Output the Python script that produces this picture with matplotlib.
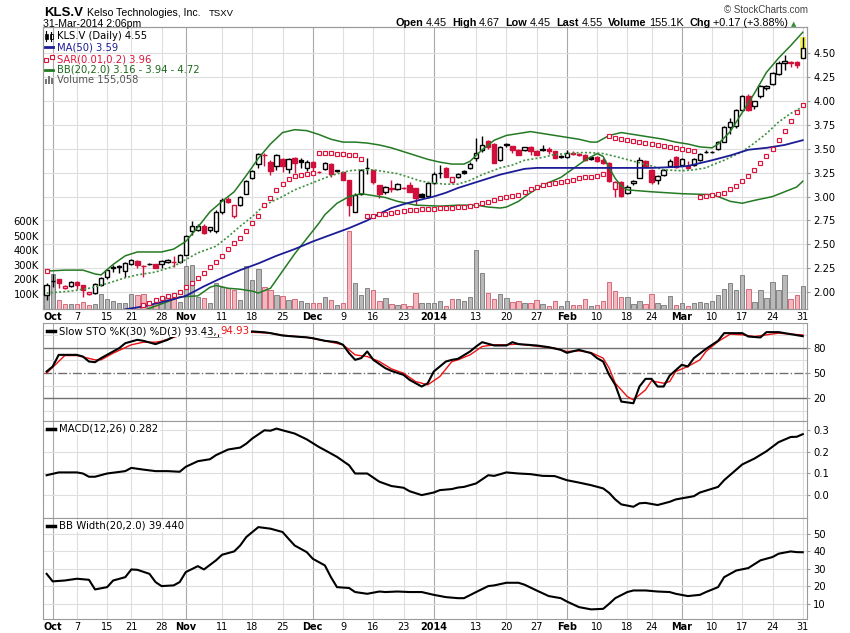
import numpy as np
import matplotlib
matplotlib.use("Agg")
import matplotlib.pyplot as plt
from matplotlib.lines import Line2D
from matplotlib.patches import Rectangle

# daily candles, 30-Sep-2013 .. 31-Mar-2014 (126 sessions)
opens = [1.97, 2.12, 2.14, 2.04, 2.06, 2.11, 2.07, 1.98, 1.99, 2.07,
         2.16, 2.25, 2.26, 2.22, 2.29, 2.33, 2.27, 2.29, 2.29, 2.29,
         2.31, 2.32, 2.32, 2.39, 2.64, 2.65, 2.69, 2.65, 2.64, 2.84,
         2.97, 2.80, 2.91, 3.03, 3.19, 3.34, 3.44, 3.36, 3.32, 3.39,
         3.29, 3.40, 3.38, 3.30, 3.36, 3.26, 3.29, 3.34, 3.28, 3.26,
         3.17, 2.84, 3.03, 3.30, 3.28, 3.12, 3.05, 3.09, 3.08, 3.09,
         3.12, 3.09, 3.03, 3.01, 3.14, 3.25, 3.30, 3.15, 3.20, 3.27,
         3.30, 3.40, 3.49, 3.58, 3.55, 3.38, 3.54, 3.53, 3.49, 3.49,
         3.52, 3.48, 3.49, 3.50, 3.48, 3.42, 3.41, 3.46, 3.45, 3.44,
         3.41, 3.41, 3.38, 3.35, 3.08, 3.15, 3.04, 3.14, 3.19, 3.37,
         3.28, 3.17, 3.23, 3.32, 3.41, 3.33, 3.32, 3.33, 3.38, 3.47,
         3.47, 3.50, 3.57, 3.73, 3.74, 3.91, 4.05, 3.95, 4.05, 4.14,
         4.18, 4.28, 4.40, 4.41, 4.41, 4.45]
highs = [2.10, 2.19, 2.14, 2.07, 2.12, 2.12, 2.07, 2.00, 2.09, 2.16,
         2.24, 2.28, 2.28, 2.31, 2.35, 2.34, 2.28, 2.30, 2.29, 2.34,
         2.35, 2.38, 2.40, 2.60, 2.74, 2.71, 2.71, 2.68, 2.86, 2.98,
         3.00, 2.91, 3.01, 3.17, 3.28, 3.46, 3.46, 3.38, 3.45, 3.40,
         3.40, 3.41, 3.40, 3.38, 3.37, 3.27, 3.36, 3.35, 3.28, 3.26,
         3.17, 3.04, 3.29, 3.40, 3.28, 3.12, 3.11, 3.17, 3.14, 3.10,
         3.15, 3.09, 3.04, 3.14, 3.26, 3.33, 3.31, 3.20, 3.25, 3.28,
         3.36, 3.61, 3.63, 3.59, 3.56, 3.53, 3.56, 3.53, 3.50, 3.52,
         3.53, 3.49, 3.54, 3.52, 3.48, 3.43, 3.49, 3.48, 3.46, 3.45,
         3.42, 3.42, 3.40, 3.36, 3.16, 3.16, 3.12, 3.17, 3.41, 3.38,
         3.29, 3.23, 3.29, 3.39, 3.42, 3.40, 3.37, 3.40, 3.46, 3.49,
         3.48, 3.58, 3.74, 3.82, 3.92, 4.06, 4.07, 4.00, 4.17, 4.17,
         4.30, 4.42, 4.48, 4.42, 4.42, 4.67]
lows = [1.92, 2.05, 2.04, 2.03, 2.05, 2.03, 1.95, 1.97, 1.98, 2.06,
        2.14, 2.21, 2.20, 2.16, 2.28, 2.25, 2.16, 2.28, 2.25, 2.25,
        2.30, 2.26, 2.30, 2.39, 2.60, 2.64, 2.61, 2.63, 2.62, 2.82,
        2.93, 2.78, 2.90, 3.03, 3.18, 3.30, 3.32, 3.23, 3.28, 3.26,
        3.25, 3.25, 3.30, 3.27, 3.26, 3.25, 3.28, 3.20, 3.26, 3.17,
        2.80, 2.84, 3.02, 3.24, 3.13, 2.99, 3.03, 3.05, 3.07, 3.08,
        3.05, 2.91, 3.00, 2.99, 3.13, 3.19, 3.20, 3.14, 3.19, 3.24,
        3.29, 3.37, 3.47, 3.50, 3.35, 3.37, 3.52, 3.46, 3.43, 3.48,
        3.44, 3.43, 3.48, 3.45, 3.40, 3.40, 3.40, 3.43, 3.42, 3.37,
        3.38, 3.36, 3.34, 3.15, 3.00, 3.00, 3.03, 3.12, 3.19, 3.31,
        3.13, 3.13, 3.22, 3.31, 3.30, 3.32, 3.29, 3.32, 3.37, 3.46,
        3.46, 3.49, 3.57, 3.66, 3.72, 3.90, 3.90, 3.92, 4.03, 4.12,
        4.17, 4.27, 4.33, 4.36, 4.35, 4.45]
closes = [2.07, 2.12, 2.09, 2.06, 2.11, 2.07, 2.02, 2.00, 2.08, 2.15,
          2.23, 2.26, 2.27, 2.30, 2.34, 2.28, 2.27, 2.29, 2.25, 2.33,
          2.34, 2.32, 2.39, 2.59, 2.69, 2.69, 2.62, 2.68, 2.84, 2.96,
          2.94, 2.91, 3.00, 3.16, 3.27, 3.45, 3.44, 3.27, 3.44, 3.32,
          3.39, 3.35, 3.36, 3.36, 3.31, 3.26, 3.35, 3.24, 3.27, 3.17,
          2.91, 3.02, 3.28, 3.30, 3.15, 3.03, 3.10, 3.08, 3.13, 3.09,
          3.05, 2.99, 3.00, 3.14, 3.24, 3.25, 3.21, 3.20, 3.24, 3.25,
          3.34, 3.46, 3.54, 3.52, 3.35, 3.52, 3.55, 3.49, 3.44, 3.52,
          3.48, 3.44, 3.50, 3.48, 3.40, 3.41, 3.46, 3.45, 3.43, 3.38,
          3.39, 3.37, 3.35, 3.16, 3.15, 3.01, 3.10, 3.16, 3.38, 3.32,
          3.15, 3.22, 3.28, 3.37, 3.31, 3.39, 3.30, 3.39, 3.45, 3.47,
          3.47, 3.57, 3.73, 3.78, 3.91, 4.05, 3.91, 4.00, 4.16, 4.16,
          4.29, 4.40, 4.42, 4.40, 4.38, 4.55]
volume_k = [91, 240, 57, 34, 34, 34, 46, 23, 30, 103,
            64, 50, 41, 41, 103, 96, 100, 34, 41, 41,
            80, 73, 46, 293, 298, 80, 73, 41, 172, 149,
            142, 126, 57, 293, 194, 270, 149, 126, 91, 86,
            57, 68, 50, 41, 41, 41, 80, 57, 27, 41,
            531, 172, 91, 142, 126, 50, 73, 30, 27, 34,
            18, 110, 41, 41, 41, 50, 16, 68, 64, 55,
            80, 401, 247, 107, 68, 103, 75, 48, 55, 41,
            41, 62, 32, 20, 55, 20, 55, 27, 27, 68,
            20, 27, 55, 185, 117, 78, 78, 34, 55, 34,
            103, 41, 27, 84, 27, 41, 20, 41, 48, 41,
            55, 96, 133, 172, 124, 233, 137, 48, 130, 75,
            185, 130, 233, 68, 96, 155]
nan = np.nan
sar = [2.22] + [nan] * 15 + [
    1.86, 1.89, 1.92, 1.94, 1.96, 1.97, 2.00, 2.05, 2.09, 2.15,
    2.20, 2.26, 2.32, 2.38, 2.45, 2.51, 2.57, 2.64, 2.72, 2.80,
    2.91, 2.99, 3.07, 3.13, 3.18, 3.22, 3.23, 3.24, 3.25,
    3.46, 3.46, 3.46, 3.45, 3.45, 3.44, 3.43, 3.39,
    2.80, 2.80, 2.82, 2.82, 2.83, 2.84, 2.85, 2.86, 2.86, 2.87,
    2.87, 2.87, 2.88, 2.88, 2.88, 2.89, 2.89, 2.90, 2.91, 2.93,
    2.94, 2.96, 2.98, 3.00, 3.01, 3.02, 3.05, 3.08, 3.10, 3.12,
    3.13, 3.14, 3.15, 3.16, 3.17, 3.19, 3.20, 3.21, 3.22, 3.24,
    3.63, 3.61, 3.60, 3.59, 3.58, 3.57, 3.56, 3.55, 3.54, 3.53,
    3.52, 3.51, 3.50, 3.49, 3.48,
    3.00, 3.01, 3.02, 3.03, 3.04, 3.08, 3.11, 3.16, 3.22, 3.28,
    3.35, 3.42, 3.50, 3.59, 3.69, 3.79, 3.88, 3.96]

# overlay lines, sampled at session index
ma50_idx = [13, 16, 18, 20, 23, 26, 29, 32, 35, 38, 41, 44, 47, 50, 53, 55, 57, 59, 62, 64,
            66, 68, 70, 72, 75, 77, 79, 81, 85, 90, 95, 100, 104, 106, 108, 110, 113, 116, 119, 122, 125]
ma50_val = [1.82, 1.85, 1.88, 1.91, 1.96, 2.06, 2.15, 2.23, 2.30, 2.38, 2.45, 2.53, 2.60, 2.67, 2.75,
            2.82, 2.88, 2.92, 2.97, 3.00, 3.04, 3.09, 3.13, 3.17, 3.23, 3.26, 3.29, 3.30, 3.30, 3.30,
            3.30, 3.30, 3.31, 3.32, 3.35, 3.38, 3.43, 3.49, 3.51, 3.54, 3.59]
bb_up_idx = [0, 3, 6, 8, 9, 11, 13, 15, 19, 21, 23, 25, 27, 29, 31, 33, 35, 37, 39, 41, 43, 45, 47,
             49, 51, 53, 55, 57, 59, 61, 63, 65, 67, 69, 70, 72, 74, 76, 78, 80, 82, 84, 86, 88, 90,
             91, 93, 95, 97, 100, 102, 104, 106, 108, 110, 111, 113, 115, 117, 119, 121, 123, 125]
bb_up_val = [2.22, 2.23, 2.23, 2.19, 2.18, 2.29, 2.38, 2.42, 2.42, 2.45, 2.53, 2.68, 2.84, 2.95,
             3.05, 3.22, 3.40, 3.55, 3.67, 3.70, 3.69, 3.65, 3.60, 3.57, 3.57, 3.56, 3.54, 3.51,
             3.47, 3.43, 3.39, 3.36, 3.34, 3.34, 3.37, 3.49, 3.59, 3.64, 3.66, 3.68, 3.66, 3.64,
             3.62, 3.60, 3.57, 3.57, 3.64, 3.67, 3.65, 3.62, 3.60, 3.57, 3.55, 3.52, 3.51, 3.55,
             3.68, 3.88, 4.08, 4.30, 4.45, 4.58, 4.72]
bb_mid_idx = [0, 4, 7, 10, 13, 15, 18, 21, 23, 25, 28, 30, 32, 34, 36, 39, 41, 43, 45, 47, 50, 52,
              54, 56, 58, 60, 62, 64, 66, 68, 70, 72, 75, 77, 79, 82, 84, 86, 88, 90, 92, 94, 97,
              100, 102, 105, 107, 109, 110, 112, 115, 117, 119, 121, 123, 125]
bb_mid_val = [1.99, 2.01, 2.04, 2.09, 2.15, 2.18, 2.21, 2.27, 2.34, 2.41, 2.48, 2.58, 2.69, 2.79,
              2.91, 3.00, 3.07, 3.12, 3.17, 3.22, 3.27, 3.28, 3.28, 3.26, 3.24, 3.20, 3.16, 3.14,
              3.13, 3.13, 3.17, 3.23, 3.30, 3.33, 3.38, 3.41, 3.44, 3.45, 3.46, 3.46, 3.45, 3.42,
              3.37, 3.32, 3.28, 3.27, 3.28, 3.30, 3.33, 3.38, 3.47, 3.56, 3.66, 3.78, 3.87, 3.94]
bb_lo_idx = [16, 17, 20, 22, 25, 27, 28, 30, 32, 34, 35, 37, 38, 39, 41, 43, 45, 46, 48, 50, 52, 54,
             56, 58, 61, 65, 68, 71, 73, 75, 76, 78, 80, 82, 85, 87, 89, 91, 92, 93, 94, 95, 96,
             100, 105, 110, 111, 113, 115, 117, 120, 122, 124, 125]
bb_lo_val = [1.80, 1.83, 1.90, 1.95, 1.96, 2.05, 2.07, 2.04, 2.03, 2.01, 1.99, 2.04, 2.13, 2.22,
             2.40, 2.56, 2.72, 2.81, 2.93, 3.00, 3.03, 3.01, 2.99, 2.95, 2.91, 2.90, 2.91, 2.91,
             2.89, 2.88, 2.89, 2.95, 3.04, 3.12, 3.20, 3.29, 3.38, 3.45, 3.42, 3.30, 3.19, 3.11,
             3.07, 3.05, 3.03, 3.02, 3.00, 2.95, 2.93, 2.96, 3.00, 3.05, 3.10, 3.16]

# lower panels
sto_k_idx = [0, 1, 2, 5, 6, 7, 8, 9, 11, 12, 13, 15, 16, 18, 20, 21, 22, 24, 26, 27, 28, 29, 31,
             34, 36, 37, 39, 41, 43, 44, 46, 48, 49, 50, 51, 52, 53, 54, 56, 57, 59, 60, 62, 63, 64,
             66, 67, 68, 70, 71, 72, 74, 76, 77, 78, 81, 83, 85, 86, 88, 90, 91, 92, 93, 94, 95,
             97, 98, 99, 100, 101, 102, 103, 105, 106, 107, 109, 111, 112, 115, 116, 118, 119,
             121, 123, 125]
sto_k_val = [51.6, 57.5, 71.3, 71.3, 69.3, 63.4, 62.6, 67.4, 75.3, 79.2, 85.1, 89.1, 87.9, 84.0,
             89.1, 93.0, 97.0, 98.0, 93.5, 93.0, 93.0, 93.5, 97.0, 99.0, 98.0, 97.0, 94.2, 93.0,
             92.0, 91.0, 87.9, 86.3, 83.2, 73.3, 65.4, 67.4, 75.3, 65.4, 55.5, 52.3, 47.6, 41.7,
             33.8, 37.7, 51.6, 63.4, 65.4, 66.6, 75.3, 81.2, 86.3, 82.4, 82.4, 86.3, 84.0, 82.4,
             80.4, 77.2, 73.7, 77.2, 73.3, 67.4, 63.4, 47.6, 35.8, 16.0, 14.0, 33.8, 42.9, 42.9,
             33.8, 33.8, 46.8, 59.5, 57.5, 67.4, 78.4, 87.9, 97.0, 97.0, 93.0, 91.9, 98.2, 98.2,
             95.8, 93.4]
sto_d_idx = [0, 3, 5, 8, 9, 11, 14, 16, 18, 19, 21, 23, 26, 29, 30, 34, 37, 39, 43, 46, 49, 51,
             53, 55, 57, 59, 61, 63, 65, 67, 68, 70, 72, 74, 76, 78, 80, 84, 86, 88, 90, 92, 93,
             94, 96, 97, 99, 100, 102, 103, 104, 106, 108, 109, 111, 113, 115, 117, 119, 121,
             123, 125]
sto_d_val = [49.6, 70.5, 70.5, 65.4, 65.4, 73.3, 83.2, 86.3, 86.3, 87.5, 92.0, 96.0, 95.0, 95.0,
             95.0, 98.0, 97.0, 94.5, 92.0, 88.0, 83.2, 71.3, 69.3, 63.4, 54.7, 49.6, 39.7, 35.8,
             45.6, 63.4, 65.4, 71.3, 81.2, 83.2, 83.2, 84.0, 82.4, 79.2, 75.3, 76.0, 74.0, 67.4,
             55.5, 37.7, 21.9, 18.0, 29.8, 40.5, 37.7, 39.7, 51.6, 57.5, 65.4, 75.3, 87.1, 95.8,
             95.0, 93.0, 95.0, 97.0, 95.8, 94.9]
macd_idx = [0, 2, 5, 6, 7, 8, 10, 13, 14, 16, 18, 20, 22, 23, 25, 27, 28, 30, 32, 33, 34, 36, 37,
            38, 39, 41, 43, 45, 46, 48, 50, 51, 53, 55, 57, 59, 60, 62, 64, 65, 67, 68, 69, 71, 73,
            74, 76, 78, 80, 82, 84, 86, 88, 90, 92, 93, 94, 95, 97, 98, 99, 101, 103, 104, 107,
            108, 111, 112, 115, 117, 119, 121, 123, 124, 125]
macd_val = [0.092, 0.105, 0.105, 0.100, 0.085, 0.085, 0.100, 0.111, 0.126, 0.118, 0.111, 0.111,
            0.108, 0.131, 0.157, 0.166, 0.185, 0.211, 0.220, 0.238, 0.262, 0.300, 0.298, 0.308,
            0.300, 0.285, 0.258, 0.223, 0.208, 0.177, 0.138, 0.100, 0.100, 0.062, 0.042, 0.034,
            0.018, 0.000, 0.012, 0.023, 0.028, 0.035, 0.038, 0.054, 0.092, 0.089, 0.105, 0.100,
            0.097, 0.089, 0.088, 0.069, 0.058, 0.046, 0.031, 0.010, -0.020, -0.043, -0.054,
            -0.038, -0.036, -0.046, -0.031, -0.020, -0.005, 0.012, 0.038, 0.069, 0.142, 0.169,
            0.203, 0.245, 0.269, 0.270, 0.282]
bbw_idx = [0, 1, 3, 5, 7, 8, 10, 11, 13, 14, 15, 17, 18, 19, 21, 22, 23, 25, 26, 28, 29, 31, 32,
           33, 35, 37, 39, 40, 41, 43, 44, 46, 47, 48, 50, 51, 53, 55, 56, 58, 60, 62, 64, 66, 68,
           69, 71, 73, 74, 76, 78, 79, 81, 83, 85, 86, 88, 90, 92, 93, 94, 96, 97, 99, 101, 103,
           104, 106, 108, 109, 111, 112, 114, 116, 118, 120, 121, 123, 124, 125]
bbw_val = [27.1, 22.8, 23.3, 24.3, 23.7, 18.2, 19.5, 23.3, 25.2, 29.6, 29.4, 27.1, 22.4, 20.1,
           20.5, 22.4, 28.1, 31.5, 29.6, 34.8, 38.0, 39.9, 43.3, 48.1, 53.8, 52.9, 51.0, 47.1,
           43.3, 39.5, 35.7, 31.9, 25.2, 19.5, 19.0, 16.7, 15.7, 17.0, 16.7, 17.0, 16.7, 16.7,
           15.1, 13.8, 13.2, 13.2, 16.7, 20.1, 20.5, 22.0, 22.0, 20.9, 17.6, 14.4, 13.2, 11.3,
           8.1, 6.8, 7.1, 10.0, 13.2, 16.7, 17.6, 17.6, 17.0, 16.7, 15.7, 14.4, 15.1, 16.7,
           19.5, 25.2, 29.0, 30.4, 34.8, 36.7, 38.6, 39.9, 39.5, 39.44]

tick_idx = [1, 5, 10, 14, 19, 23, 29, 34, 39, 44, 49, 54, 59, 64, 71, 76, 81, 86, 91, 96, 100,
            105, 110, 115, 120, 125]
tick_lab = ['Oct', '7', '15', '21', '28', 'Nov', '11', '18', '25', 'Dec', '9', '16', '23', '2014',
            '13', '20', '27', 'Feb', '10', '18', '24', 'Mar', '10', '17', '24', '31']
month_lab = ['Oct', 'Nov', 'Dec', '2014', 'Feb', 'Mar']
price_ticks = [2.00, 2.25, 2.50, 2.75, 3.00, 3.25, 3.50, 3.75, 4.00, 4.25, 4.50]
vol_ticks = [100, 200, 300, 400, 500, 600]
quote = [('Open', True), ('4.45', False), ('High', True), ('4.67', False),
         ('Low', True), ('4.45', False), ('Last', True), ('4.55', False),
         ('Volume', True), ('155.1K', False), ('Chg', True), ('+0.17 (+3.88%)', False)]

W, H = 850.0, 633.0
RED = '#d0103a'
GRID = '#dedede'
GRID_M = '#a9a9a9'
SPINE = '#9a9a9a'
X0, X1 = -0.6, 125.7
P0, P1 = 1.823, 4.775

plt.rcParams['font.family'] = 'DejaVu Sans'


def fx(x):
    return x / W


def fy(y):
    return 1 - y / H


fig = plt.figure(figsize=(8.5, 6.33), dpi=100)


def panel(top, bottom, labels=False):
    a = fig.add_axes([fx(43), fy(bottom), (807 - 43) / W, (bottom - top) / H])
    a.set_xlim(X0, X1)
    for s in a.spines.values():
        s.set_color(SPINE)
        s.set_linewidth(0.8)
    for i, lab in zip(tick_idx, tick_lab):
        a.axvline(i, color=GRID_M if lab in month_lab else GRID, lw=0.8, zorder=0)
    a.set_xticks(tick_idx)
    if labels:
        a.set_xticklabels(tick_lab)
        for t in a.get_xticklabels():
            if t.get_text() in month_lab:
                t.set_fontweight('bold')
        a.tick_params(axis='x', length=0, labelsize=7, pad=2)
    else:
        a.tick_params(axis='x', length=0, labelbottom=False)
    a.yaxis.tick_right()
    a.tick_params(axis='y', length=2.5, color=SPINE, labelsize=7.2, pad=2)
    return a


n = len(closes)
idx = np.arange(n)
o = np.array(opens)
h = np.array(highs)
l = np.array(lows)
c = np.array(closes)
prev = np.concatenate([[c[0]], c[:-1]])
down = c < prev
cols = [RED if d else 'black' for d in down]
fills = ['white' if cc > oo else col for cc, oo, col in zip(c, o, cols)]

# ---------------- price panel (volume underneath)
ax_v = panel(27, 309, labels=True)
ax_v.yaxis.tick_left()
ax_v.set_ylim(-3, 1929)
ax_v.set_yticks(vol_ticks)
ax_v.set_yticklabels(['%dK' % v for v in vol_ticks])
ax_v.tick_params(axis='y', length=0, labelsize=7.2, pad=3)
for p in price_ticks:
    f = (p - P0) / (P1 - P0)
    ax_v.plot([0, 1], [f, f], transform=ax_v.transAxes, color=GRID, lw=0.8, zorder=0)
ax_v.bar(idx, volume_k, width=0.72,
         color=['#f2b8bd' if d else '#b9b9b9' for d in down],
         edgecolor=['#d46b7b' if d else '#848484' for d in down], lw=0.7, zorder=1)

ax = ax_v.twinx()
ax.set_xlim(X0, X1)
ax.set_ylim(P0, P1)
ax.set_yticks(price_ticks)
ax.set_yticklabels(['%.2f' % p for p in price_ticks])
ax.tick_params(axis='y', length=2.5, color=SPINE, labelsize=7.2, pad=2)
for s in ax.spines.values():
    s.set_color(SPINE)
    s.set_linewidth(0.8)

# highlight for the live session
ax.bar(idx[-1], h[-1] - l[-1], bottom=l[-1], width=1.0, color='#f4f25c', zorder=2)
ax.vlines(idx, l, h, colors=cols, lw=1.0, zorder=3)
ax.bar(idx, np.abs(c - o), bottom=np.minimum(o, c), width=0.72, color=fills,
       edgecolor=cols, lw=1.0, zorder=4)

ax.plot(bb_up_idx, bb_up_val, color='#237a23', lw=1.1, zorder=5)
ax.plot(bb_lo_idx, bb_lo_val, color='#237a23', lw=1.1, zorder=5)
ax.plot(bb_mid_idx, bb_mid_val, color='#3f913f', lw=1.2, ls=(0, (1.2, 1.3)), zorder=5)
ax.plot(ma50_idx, ma50_val, color='#1c1c96', lw=1.3, zorder=5)
ax.plot(idx, sar, ls='none', marker='s', ms=2.4, mfc='white', mec='#dc143c', mew=0.85, zorder=6)

# ---------------- slow stochastics
sto = panel(323, 421)
sto.set_ylim(-7, 109)
for v in (5, 35, 65, 95):
    sto.axhline(v, color=GRID, lw=0.8, zorder=0)
sto.axhline(80, color='#707070', lw=1.0, zorder=1)
sto.axhline(20, color='#707070', lw=1.0, zorder=1)
sto.axhline(50, color='#707070', lw=1.0, ls='-.', zorder=1)
sto.set_yticks([20, 50, 80])
sto.plot(sto_d_idx, sto_d_val, color='#ee1111', lw=1.0, zorder=3)
sto.plot(sto_k_idx, sto_k_val, color='black', lw=1.5, zorder=4)

# ---------------- MACD
macd = panel(421, 518)
macd.set_ylim(-0.106, 0.343)
for v in (0.0, 0.1, 0.2, 0.3):
    macd.axhline(v, color=GRID, lw=0.8, zorder=0)
macd.set_yticks([0.0, 0.1, 0.2, 0.3])
macd.set_yticklabels(['0.0', '0.1', '0.2', '0.3'])
macd.plot(macd_idx, macd_val, color='black', lw=1.5, zorder=3)

# ---------------- BB width
bbw = panel(518, 619, labels=True)
bbw.set_ylim(1.3, 59)
for v in (10, 20, 30, 40, 50):
    bbw.axhline(v, color=GRID, lw=0.8, zorder=0)
bbw.set_yticks([10, 20, 30, 40, 50])
bbw.plot(bbw_idx, bbw_val, color='black', lw=1.5, zorder=3)

# ---------------- header
hf = 'Liberation Sans'
fig.text(fx(44), fy(16), 'KLS.V', family=hf, fontsize=9.5, weight='bold', va='baseline')
fig.text(fx(87), fy(16), 'Kelso Technologies, Inc.', family=hf, fontsize=7.6, va='baseline')
fig.text(fx(209), fy(16), 'TSXV', family=hf, fontsize=6.8, va='baseline')
fig.text(fx(43), fy(27), '31-Mar-2014 2:06pm', family=hf, fontsize=7.6, va='baseline')
fig.text(fx(808), fy(13), '\u00a9 StockCharts.com', family=hf, fontsize=7, color='#444444',
         va='baseline', ha='right')

# quote line: lay the pieces out one after another, ending just left of the arrow
qt = [fig.text(0, fy(26.5), txt, family=hf, fontsize=7.8, va='baseline',
               weight='bold' if b else 'normal') for txt, b in quote]
fig.canvas.draw()
rend = fig.canvas.get_renderer()
wid = [t.get_window_extent(rend).width for t in qt]
gap = [2.5 if b else 5.5 for _, b in quote]
xq = 788 - (sum(wid) + sum(gap[:-1]))
for t, w_, g in zip(qt, wid, gap):
    t.set_x(xq / W)
    xq += w_ + g
fig.text(fx(791), fy(26), '\u25b2', fontsize=5, color='#2f8f2f', va='baseline')

# ---------------- price legend
lf = 7.2
fig.add_artist(Line2D([fx(46), fx(46)], [fy(31), fy(41)], color='black', lw=0.8))
fig.add_artist(Rectangle((fx(44.5), fy(39)), 3 / W, 5 / H, fc='black', ec='black', lw=0.5))
fig.add_artist(Line2D([fx(51), fx(51)], [fy(32), fy(41)], color='black', lw=0.8))
fig.add_artist(Rectangle((fx(49.5), fy(39)), 3 / W, 5 / H, fc='white', ec='black', lw=0.6))
fig.text(fx(57), fy(36), 'KLS.V (Daily) 4.55', fontsize=lf, va='center')
fig.add_artist(Line2D([fx(45), fx(53)], [fy(47.3), fy(47.3)], color='#1c1c96', lw=2))
fig.text(fx(57), fy(47.3), 'MA(50) 3.59', fontsize=lf, va='center', color='#1c1c96')
fig.add_artist(Line2D([fx(46), fx(51.5)], [fy(60), fy(57)], ls='none', marker='s', ms=2.3,
                      mfc='white', mec='#dc143c', mew=0.8))
fig.text(fx(57), fy(59), 'SAR(0.01,0.2) 3.96', fontsize=lf, va='center', color='#dc143c')
fig.add_artist(Line2D([fx(45), fx(53)], [fy(70), fy(70)], color='#237a23', lw=2))
fig.text(fx(57), fy(70), 'BB(20,2.0) 3.16 - 3.94 - 4.72', fontsize=lf, va='center',
         color='#1a6b1a')
for bx, bh in ((45, 5), (48, 8), (51, 6)):
    fig.add_artist(Rectangle((fx(bx), fy(84)), 2 / W, bh / H, fc='#777777', ec='none'))
fig.text(fx(57), fy(80), 'Volume 155,058', fontsize=lf, va='center', color='#555555')

# ---------------- lower panel titles
box = dict(fc='white', ec='none', pad=1.0)
for ty in (331, 428.5, 526):
    fig.add_artist(Line2D([fx(47), fx(55)], [fy(ty), fy(ty)], color='black', lw=2.5))
t1 = fig.text(fx(59), fy(331), 'Slow STO %K(30) %D(3) 93.43,', fontsize=7.3, va='center',
              bbox=box)
fig.canvas.draw()
bb = t1.get_window_extent(fig.canvas.get_renderer())
fig.text((bb.x1 + 4) / fig.bbox.width, fy(331), '94.93', fontsize=7.3, va='center',
         color='#ee1111', bbox=box)
fig.text(fx(59), fy(428.5), 'MACD(12,26) 0.282', fontsize=7.3, va='center', bbox=box)
fig.text(fx(59), fy(526), 'BB Width(20,2.0) 39.440', fontsize=7.3, va='center', bbox=box)

fig.savefig('out.png', dpi=100)
